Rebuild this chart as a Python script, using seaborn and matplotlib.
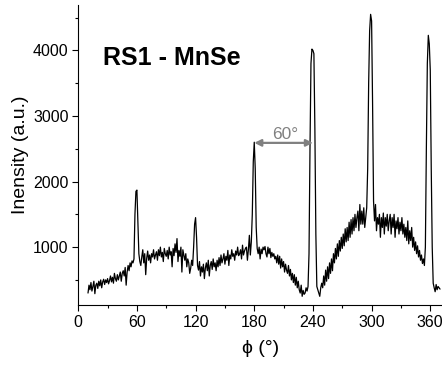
import matplotlib
matplotlib.use("Agg")
import matplotlib.pyplot as plt
import seaborn as sns
import pandas as pd
from matplotlib.ticker import MultipleLocator

phi_start = 10
intensity = [
    300, 420, 350, 460, 330, 400, 480, 290, 420, 450,
    370, 480, 410, 500, 380, 470, 510, 430, 500, 460,
    520, 440, 490, 560, 470, 540, 450, 600, 520, 480,
    580, 500, 560, 620, 480, 600, 640, 560, 690, 420,
    620, 720, 640, 760, 700, 790, 760, 820, 1500, 1850,
    1870, 1400, 900, 780, 720, 850, 960, 760, 900, 580,
    830, 940, 800, 880, 760, 900, 850, 960, 820, 880,
    930, 800, 960, 870, 1000, 850, 920, 780, 980, 900,
    860, 950, 820, 1000, 880, 930, 700, 980, 870, 1050,
    920, 1130, 780, 950, 860, 1000, 620, 960, 880, 800,
    900, 700, 820, 760, 600, 680, 800, 720, 1000, 1350,
    1450, 1150, 720, 650, 780, 560, 700, 620, 740, 520,
    680, 760, 640, 800, 560, 720, 780, 660, 820, 700,
    760, 640, 800, 700, 840, 720, 880, 760, 820, 900,
    740, 860, 800, 950, 720, 880, 820, 960, 860, 900,
    800, 940, 880, 1000, 870, 900, 960, 820, 1030, 880,
    940, 980, 1000, 800, 960, 1180, 880, 1080, 1500, 2300,
    2600, 2200, 1300, 980, 900, 1000, 820, 970, 900, 1000,
    960, 1010, 900, 850, 1000, 900, 980, 840, 920, 860,
    900, 820, 860, 760, 880, 740, 860, 680, 820, 700,
    780, 620, 740, 650, 600, 720, 560, 660, 500, 600,
    460, 580, 420, 540, 380, 480, 350, 300, 420, 250,
    340, 280, 300, 380, 330, 400, 900, 2500, 3800, 4020,
    4000, 3950, 2800, 1200, 400, 350, 300, 250, 380, 450,
    380, 560, 420, 650, 480, 700, 520, 760, 600, 820,
    640, 900, 760, 980, 820, 1050, 860, 1100, 940, 1150,
    980, 1200, 1020, 1280, 1080, 1300, 1100, 1380, 1150, 1420,
    1200, 1450, 1250, 1500, 1300, 1450, 1550, 1250, 1650, 1350,
    1550, 1350, 1600, 1300, 1450, 1600, 2200, 3500, 4300, 4550,
    4450, 3200, 1700, 1400, 1650, 1250, 1450, 1350, 1500, 1150,
    1450, 1300, 1520, 1200, 1450, 1320, 1500, 1250, 1400, 1500,
    1200, 1450, 1300, 1500, 1150, 1400, 1280, 1450, 1200, 1380,
    1250, 1450, 1200, 1350, 1150, 1300, 1100, 1400, 1050, 1250,
    1100, 1300, 1000, 1150, 950, 1080, 900, 1020, 850, 950,
    800, 880, 750, 820, 720, 1000, 2500, 3800, 4230, 4100,
    3700, 2200, 1000, 450, 380, 320, 430, 350, 400, 380,
    360,
]
phi = list(range(phi_start, phi_start + len(intensity)))

x_ticks = [0, 60, 120, 180, 240, 300, 360]
y_ticks = [1000, 2000, 3000, 4000]

df = pd.DataFrame({"phi": phi, "intensity": intensity})

sns.set_style("ticks")
plt.rcParams["font.family"] = ["Liberation Sans", "DejaVu Sans"]
plt.rcParams["text.color"] = "black"
plt.rcParams["axes.labelcolor"] = "black"

fig = plt.figure(figsize=(4.42, 3.69), dpi=100)
ax = fig.add_axes([0.177, 0.173, 0.823, 0.813])

sns.lineplot(data=df, x="phi", y="intensity", ax=ax, color="black", linewidth=0.9)

ax.set_xlim(0, 372)
ax.set_ylim(115, 4690)
ax.set_xticks(x_ticks)
ax.set_yticks(y_ticks)
ax.xaxis.set_minor_locator(MultipleLocator(30))
ax.yaxis.set_minor_locator(MultipleLocator(500))
ax.tick_params(which="major", direction="out", length=4, width=0.8, labelsize=11.5, colors="black", pad=3)
ax.tick_params(which="minor", direction="out", length=2.5, width=0.8, colors="black")
for s in ["top", "right"]:
    ax.spines[s].set_visible(False)
for s in ["left", "bottom"]:
    ax.spines[s].set_linewidth(0.8)
    ax.spines[s].set_color("black")

ax.set_xlabel("ϕ (°)", fontsize=14, labelpad=7)
ax.set_ylabel("Inensity (a.u.)", fontsize=14, labelpad=3)

ax.text(25, 3880, "RS1 - MnSe", fontsize=18, fontweight="bold", va="center", ha="left", color="black")

ax.annotate("", xy=(180, 2590), xytext=(240, 2590),
            arrowprops=dict(arrowstyle="<|-|>", color="#808080", lw=1.6, mutation_scale=10,
                            shrinkA=0, shrinkB=0))
ax.text(212, 2610, "60°", fontsize=12.5, color="#808080", ha="center", va="bottom")

fig.savefig("out.png", dpi=100)
